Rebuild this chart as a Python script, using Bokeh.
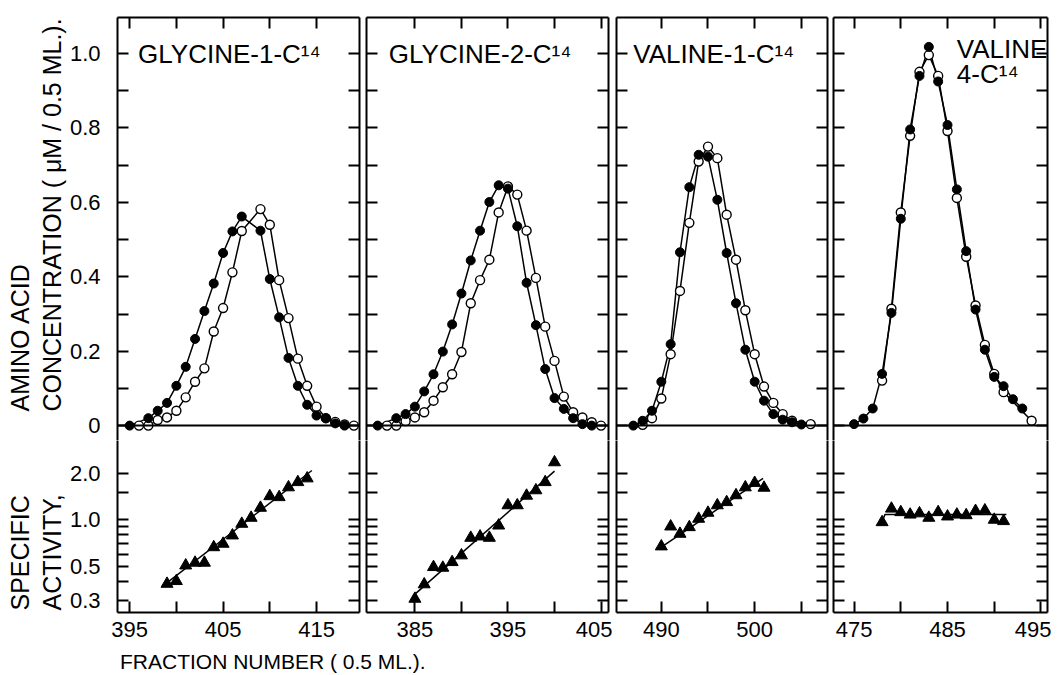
from bokeh.plotting import figure
from bokeh.layouts import row, column
from bokeh.models import (Range1d, FixedTicker, PrintfTickFormatter, LinearAxis,
                          LogAxis, Label, Span, Title, Div, CustomJSTickFormatter)
from bokeh.embed import file_html
from bokeh.resources import INLINE

FONT = "Liberation Sans"

# ---------------- data ----------------
# Panel 1: Glycine-1-C14
g1_frac_filled = [395, 397, 398, 399, 400, 401, 402, 403, 404, 405, 406, 407,
                  409, 410, 411, 412, 413, 414, 415, 416, 417, 418]
g1_conc_filled = [0.0, 0.020, 0.040, 0.061, 0.107, 0.158, 0.233, 0.308, 0.382, 0.464, 0.522, 0.562,
                  0.524, 0.394, 0.291, 0.182, 0.107, 0.056, 0.027, 0.020, 0.006, 0.0]
g1_frac_open = [396, 397, 398, 399, 400, 401, 402, 403, 404, 405, 406, 407,
                409, 410, 411, 412, 413, 414, 415, 416, 417, 418, 419]
g1_conc_open = [0.0, 0.0, 0.015, 0.022, 0.040, 0.076, 0.118, 0.154, 0.253, 0.316, 0.412, 0.523,
                0.582, 0.540, 0.391, 0.289, 0.180, 0.107, 0.051, 0.020, 0.010, 0.003, 0.0]
g1_frac_sa = [399, 400, 401, 402, 403, 404, 405, 406, 407, 408, 409, 410, 411, 412, 413, 414]
g1_sa = [0.386, 0.402, 0.507, 0.528, 0.528, 0.665, 0.700, 0.792, 0.942, 1.03, 1.195, 1.42,
         1.40, 1.62, 1.75, 1.85]
g1_fit_frac = [398.4, 414.5]
g1_fit_sa = [0.367, 2.08]

# Panel 2: Glycine-2-C14
g2_frac_filled = [381, 383, 384, 385, 386, 387, 388, 389, 390, 391, 392, 393, 394,
                  395, 396, 397, 398, 399, 400, 401, 402, 403, 404]
g2_conc_filled = [0.0, 0.020, 0.031, 0.051, 0.092, 0.138, 0.199, 0.272, 0.355, 0.444, 0.524, 0.601, 0.646,
                  0.637, 0.536, 0.384, 0.270, 0.152, 0.074, 0.045, 0.020, 0.004, 0.0]
g2_frac_open = [382, 383, 384, 385, 386, 387, 388, 389, 390, 391, 392, 393, 394,
                395, 396, 397, 398, 399, 400, 401, 402, 403, 404, 405]
g2_conc_open = [0.0, 0.0, 0.012, 0.022, 0.036, 0.067, 0.103, 0.138, 0.198, 0.329, 0.391, 0.446, 0.573,
                0.643, 0.621, 0.524, 0.397, 0.266, 0.174, 0.078, 0.036, 0.022, 0.009, 0.0]
g2_frac_sa = [385, 386, 387, 388, 389, 390, 391, 392, 393, 394, 395, 396, 397, 398, 399, 400]
g2_sa = [0.309, 0.383, 0.495, 0.490, 0.533, 0.589, 0.765, 0.780, 0.765, 0.918, 1.24, 1.24,
         1.43, 1.55, 1.75, 2.35]
g2_fit_frac = [385.1, 400.0]
g2_fit_sa = [0.335, 2.06]

# Panel 3: Valine-1-C14
v1_frac_filled = [487, 488, 489, 490, 491, 492, 493, 494, 495, 496, 497, 498, 499,
                  500, 501, 502, 503, 504, 505]
v1_conc_filled = [0.0, 0.013, 0.040, 0.118, 0.219, 0.466, 0.641, 0.728, 0.723, 0.607, 0.464, 0.329, 0.204,
                  0.118, 0.067, 0.031, 0.016, 0.009, 0.003]
v1_frac_open = [488, 489, 490, 491, 492, 493, 494, 495, 496, 497, 498, 499,
                500, 501, 502, 503, 504, 506]
v1_conc_open = [0.002, 0.020, 0.073, 0.192, 0.362, 0.545, 0.710, 0.750, 0.719, 0.567, 0.446, 0.310,
                0.192, 0.105, 0.061, 0.031, 0.013, 0.004]
v1_frac_sa = [490, 491, 492, 493, 494, 495, 496, 497, 498, 499, 500, 501]
v1_sa = [0.673, 0.905, 0.812, 0.896, 1.015, 1.11, 1.24, 1.30, 1.44, 1.62, 1.73, 1.61]
v1_fit_frac = [490.0, 500.9]
v1_fit_sa = [0.666, 1.85]

# Panel 4: Valine-4-C14
v4_frac_filled = [475, 476, 477, 478, 479, 480, 481, 482, 483, 484, 485, 486, 487,
                  488, 489, 490, 491, 492, 493]
v4_conc_filled = [0.004, 0.019, 0.046, 0.139, 0.303, 0.556, 0.796, 0.940, 1.018, 0.925, 0.808, 0.635, 0.469,
                  0.312, 0.204, 0.131, 0.106, 0.071, 0.046]
v4_frac_open = [478, 479, 480, 481, 482, 483, 484, 485, 486, 487, 488, 489, 490, 491, 494]
v4_conc_open = [0.121, 0.314, 0.573, 0.779, 0.951, 0.996, 0.940, 0.792, 0.612, 0.454, 0.323, 0.217,
                0.139, 0.090, 0.013]
v4_frac_sa = [478, 479, 480, 481, 482, 483, 484, 485, 486, 487, 488, 489, 490, 491]
v4_sa = [0.965, 1.18, 1.12, 1.08, 1.10, 1.03, 1.12, 1.05, 1.08, 1.07, 1.14, 1.15, 1.00, 0.98]
v4_fit_frac = [478.0, 478.3, 491.3]
v4_fit_sa = [0.97, 1.08, 1.08]

# axis tick values and labels
conc_ticks_labeled = [0, 0.2, 0.4, 0.6, 0.8, 1.0]
conc_ticks_minor = [0.1, 0.3, 0.5, 0.7, 0.9]
sa_ticks_labeled = [0.3, 0.5, 1.0, 2.0]
sa_ticks_minor = [0.4, 0.6, 0.7, 0.8, 0.9, 1.5]

titles = [["GLYCINE-1-C¹⁴"], ["GLYCINE-2-C¹⁴"], ["VALINE-1-C¹⁴"], ["VALINE", "4-C¹⁴"]]
frac_labeled = [[395, 405, 415], [385, 395, 405], [490, 500], [475, 485, 495]]
frac_minor = [[400, 410], [390, 400], [495, 505], [480, 490]]

y_label_top = ["CONCENTRATION ( μM / 0.5 ML.).", "AMINO ACID"]
y_label_bottom = ["ACTIVITY,", "SPECIFIC"]
x_label = "FRACTION NUMBER ( 0.5 ML.)."

panel_data = [
    (g1_frac_filled, g1_conc_filled, g1_frac_open, g1_conc_open, g1_frac_sa, g1_sa, g1_fit_frac, g1_fit_sa),
    (g2_frac_filled, g2_conc_filled, g2_frac_open, g2_conc_open, g2_frac_sa, g2_sa, g2_fit_frac, g2_fit_sa),
    (v1_frac_filled, v1_conc_filled, v1_frac_open, v1_conc_open, v1_frac_sa, v1_sa, v1_fit_frac, v1_fit_sa),
    (v4_frac_filled, v4_conc_filled, v4_frac_open, v4_conc_open, v4_frac_sa, v4_sa, v4_fit_frac, v4_fit_sa),
]

# ---------------- layout (pixels) ----------------
x_ranges = [(393.7, 419.6), (379.8, 405.8), (485.2, 507.8), (472.8, 495.7)]
frame_w = [242, 242, 211, 214]
border_l = [117, 4, 4, 3]
border_r = [3, 4, 3, 4]
title_pos = [[(395.9, 1.0)], [(382.2, 1.0)], [(487.0, 1.0)], [(486.0, 1.011), (486.0, 0.944)]]


def style_axis(ax, show_labels, standoff=10):
    ax.axis_line_width = 2
    ax.axis_line_color = "black"
    ax.major_tick_in = 11
    ax.major_tick_out = 0
    ax.minor_tick_in = 11
    ax.minor_tick_out = 0
    ax.major_tick_line_width = 2
    ax.minor_tick_line_width = 2
    ax.major_tick_line_color = "black"
    ax.minor_tick_line_color = "black"
    if show_labels:
        ax.major_label_text_font = FONT
        ax.major_label_text_font_size = "22px"
        ax.major_label_text_color = "black"
        ax.major_label_standoff = standoff
    else:
        ax.formatter = CustomJSTickFormatter(code="return ''")
        ax.major_label_text_font_size = "0px"
        ax.major_label_standoff = 0


def side_title(text, offset, standoff):
    return Title(text=text, align="left", offset=offset, standoff=standoff,
                 text_font=FONT, text_font_size="25px", text_font_style="normal",
                 text_color="black")


columns = []
for i in range(4):
    ff, cf, fo, co, fs, sa, fitf, fits = panel_data[i]
    xr = Range1d(*x_ranges[i])
    common = dict(frame_width=frame_w[i], min_border_left=border_l[i], min_border_right=border_r[i],
                  toolbar_location=None, tools="", output_backend="svg", title=None,
                  x_axis_location=None, y_axis_location=None,
                  background_fill_color="white", border_fill_color="white", outline_line_color=None)

    top = figure(x_range=xr, y_range=Range1d(-0.04, 1.097), frame_height=423,
                 min_border_top=17, min_border_bottom=0, **common)
    top.grid.visible = False

    left = LinearAxis(ticker=FixedTicker(ticks=conc_ticks_labeled, minor_ticks=conc_ticks_minor))
    if i == 0:
        left.formatter = PrintfTickFormatter(format="%.1f")
        left.major_label_overrides = {0: "0"}
    style_axis(left, i == 0, standoff=17)
    top.add_layout(left, "left")
    right = LinearAxis(ticker=FixedTicker(ticks=conc_ticks_labeled, minor_ticks=conc_ticks_minor))
    style_axis(right, False)
    top.add_layout(right, "right")
    above = LinearAxis(ticker=FixedTicker(ticks=frac_labeled[i], minor_ticks=frac_minor[i]))
    style_axis(above, False)
    top.add_layout(above, "above")

    top.add_layout(Span(location=0, dimension="width", line_color="black", line_width=2))

    top.line(fo, co, line_color="black", line_width=1.5)
    top.line(ff, cf, line_color="black", line_width=1.5)
    top.scatter(fo, co, marker="circle", size=9, fill_color="white", line_color="black", line_width=1.4)
    top.scatter(ff, cf, marker="circle", size=9, fill_color="black", line_color="black", line_width=1.0)

    for txt, (tx, ty) in zip(titles[i], title_pos[i]):
        top.add_layout(Label(x=tx, y=ty, text=txt, text_font=FONT, text_font_size="26px",
                             text_color="black", text_align="left", text_baseline="alphabetic"))

    bot = figure(x_range=xr, y_range=Range1d(0.252, 3.25), y_axis_type="log", frame_height=172,
                 min_border_top=0, min_border_bottom=38, **common)
    bot.grid.visible = False
    bl = LogAxis(ticker=FixedTicker(ticks=sa_ticks_labeled, minor_ticks=sa_ticks_minor))
    if i == 0:
        bl.formatter = PrintfTickFormatter(format="%.1f")
    style_axis(bl, i == 0, standoff=17)
    bot.add_layout(bl, "left")
    br = LogAxis(ticker=FixedTicker(ticks=sa_ticks_labeled, minor_ticks=sa_ticks_minor))
    style_axis(br, False)
    bot.add_layout(br, "right")
    below = LinearAxis(ticker=FixedTicker(ticks=frac_labeled[i], minor_ticks=frac_minor[i]),
                       formatter=PrintfTickFormatter(format="%d"))
    style_axis(below, True, standoff=9)
    bot.add_layout(below, "below")

    bot.line(fitf, fits, line_color="black", line_width=1.5)
    bot.scatter(fs, sa, marker="triangle", size=12, fill_color="black", line_color="black")

    if i == 0:
        top.add_layout(side_title(y_label_top[0], 29, 2), "left")
        top.add_layout(side_title(y_label_top[1], 29, 2), "left")
        bot.add_layout(side_title(y_label_bottom[0], 2, 2), "left")
        bot.add_layout(side_title(y_label_bottom[1], 2, 2), "left")

    columns.append(column(top, bot, spacing=0))

x_title = Div(text=x_label, width=440, height=24, margin=(0, 0, 0, 120),
              styles={"font-family": FONT, "font-size": "21px", "color": "black",
                      "line-height": "24px", "white-space": "nowrap"})

p = column(row(*columns, spacing=0), x_title, spacing=0)

with open("out.html", "w") as f:
    f.write(file_html(p, INLINE))
